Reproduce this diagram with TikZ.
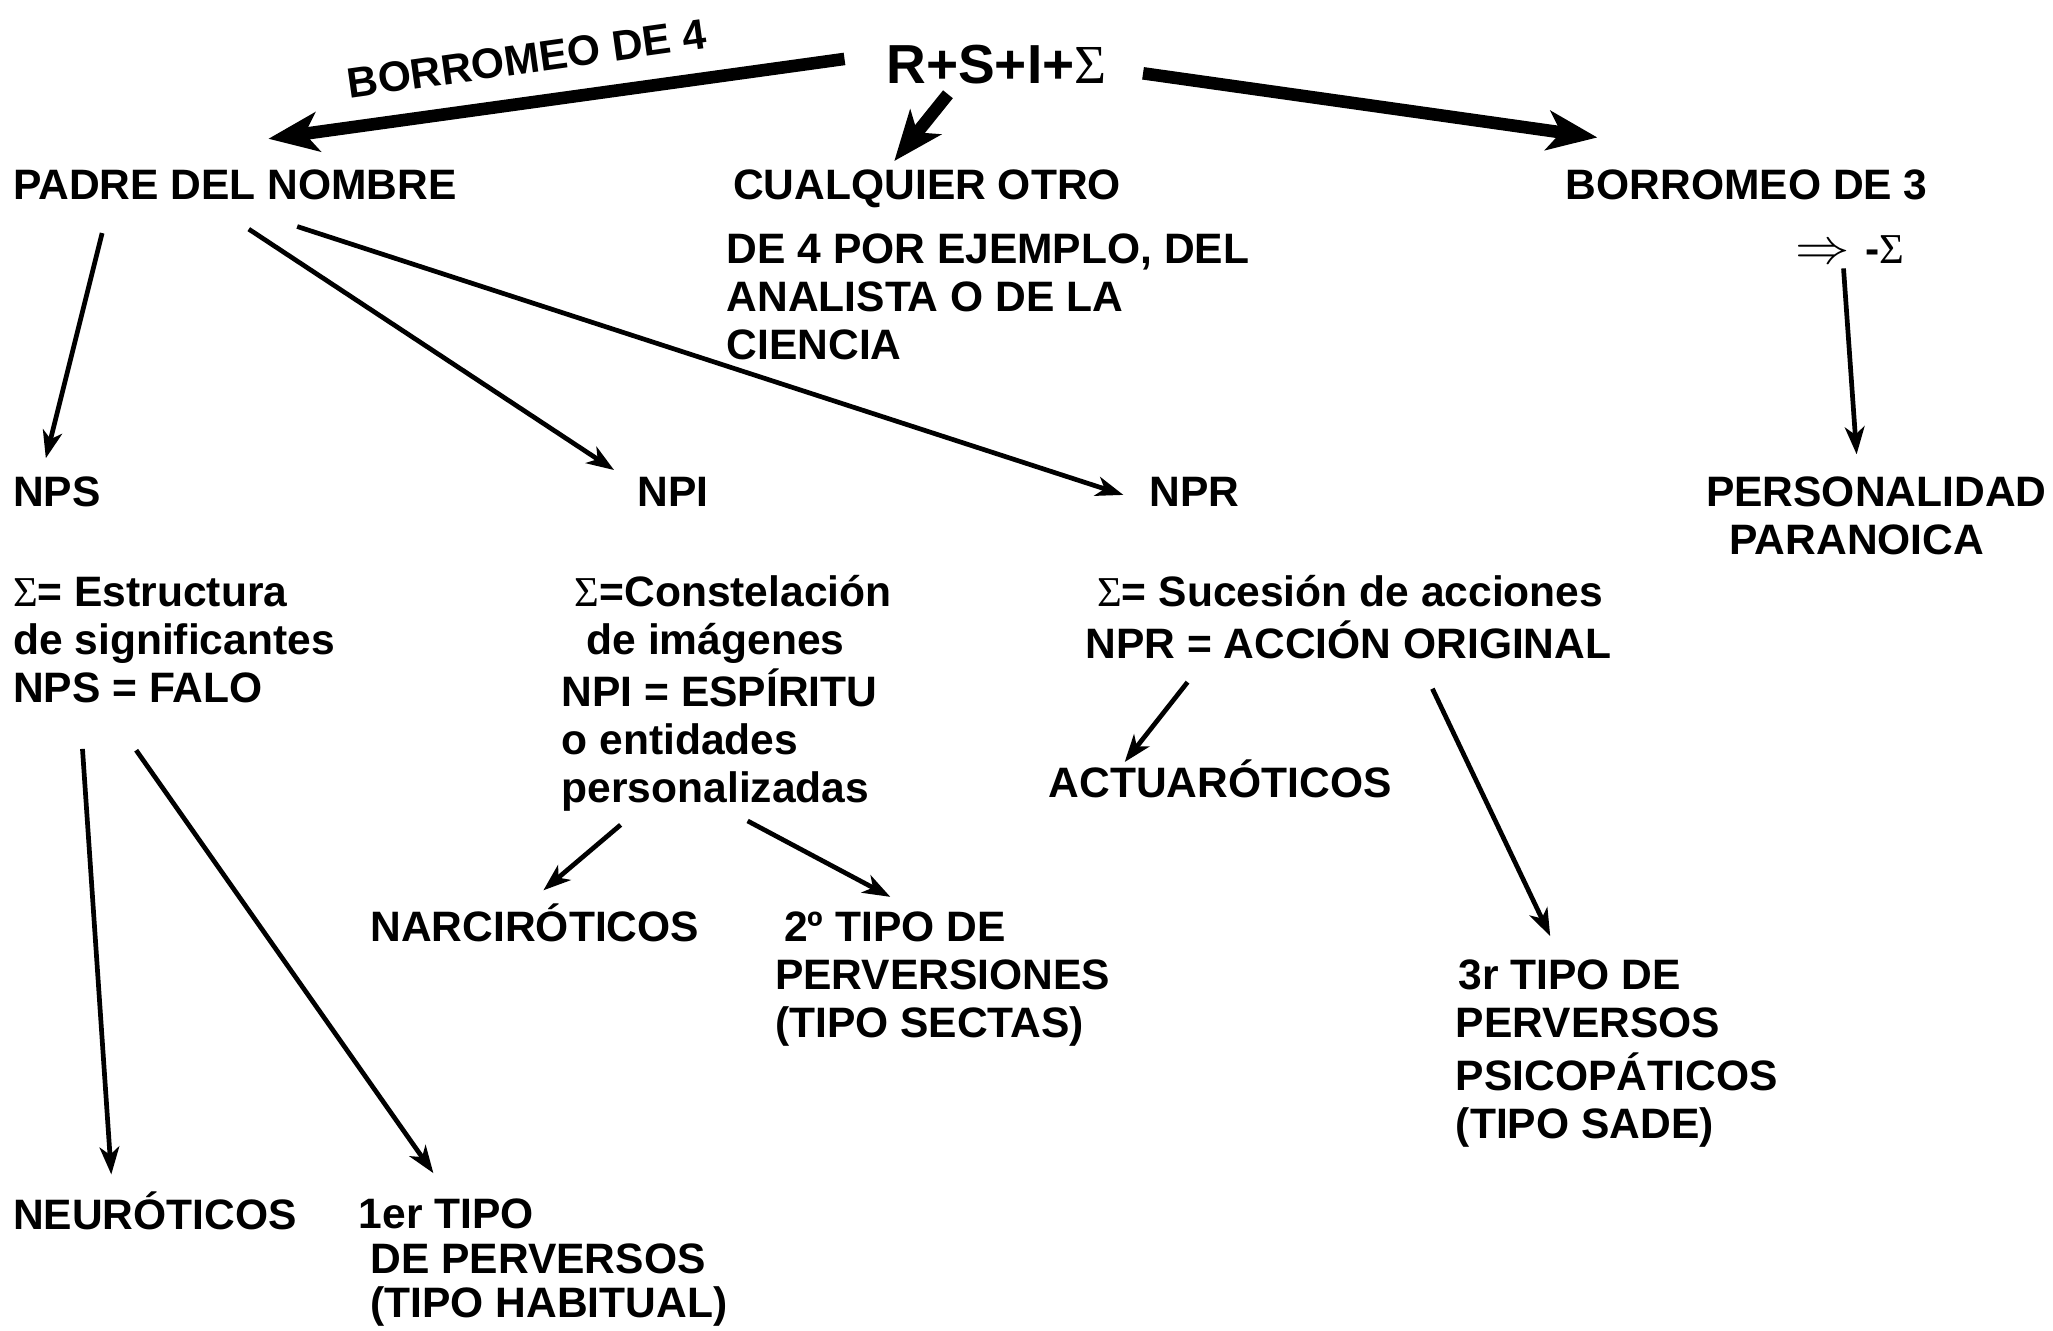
\documentclass[tikz,border=0pt]{standalone}
\usepackage{fontspec}
\setmainfont{Liberation Sans}
\newfontfamily\sigf{Liberation Serif}
\usetikzlibrary{arrows.meta}
\newcommand{\Sg}{{\sigf\mdseries Σ}}
\begin{document}
\begin{tikzpicture}[x=0.5pt,y=-0.5pt,
  every node/.style={inner sep=0pt, outer sep=0pt, anchor=base west,
    font=\fontsize{16.25}{18.35}\selectfont\bfseries},
  big/.style={font=\fontsize{21}{24}\selectfont\bfseries},
  thinarrow/.style={line width=1.8pt, -{Stealth[length=10.5pt,width=7.5pt,inset=3pt]}},
  thickarrow/.style={line width=4.8pt, -{Stealth[length=19pt,width=15pt,inset=5pt]}}]
\fill[white] (0,0) rectangle (1568,1016);
\useasboundingbox (0,0) rectangle (1568,1016);

% top
\node[big] (rsis) at (677,64) {R+S+I+\Sg};
\node[rotate=8] (b4) at (267,75) {BORROMEO DE 4};

\node (padre) at (10,152) {PADRE DEL NOMBRE};
\node (otro) at (560,152) {CUALQUIER OTRO};
\node (b3) at (1196,152) {BORROMEO DE 3};
\node (ej) at (555,201) {\begin{tabular}[t]{@{}l@{}}DE 4 POR EJEMPLO, DEL\\ANALISTA O DE LA\\CIENCIA\end{tabular}};
\node (imp) at (1371,201) {\scalebox{1.2}[1.1]{$\Rightarrow$}\hspace{6pt}-\Sg};

% second level
\node (nps) at (10,387) {NPS};
\node (npi) at (487,387) {NPI};
\node (npr) at (878,387) {NPR};
\node (pers) at (1303,387) {\begin{tabular}[t]{@{}l@{}}PERSONALIDAD\\\hspace{9pt}PARANOICA\end{tabular}};

\node (snps) at (10,463) {\begin{tabular}[t]{@{}l@{}}\Sg= Estructura\\de significantes\\NPS = FALO\end{tabular}};
\node (snpi) at (429,463) {\begin{tabular}[t]{@{}l@{}}\hspace{5pt}\Sg=Constelación\\\hspace{9.5pt}de imágenes\\NPI = ESPÍRITU\\o entidades\\personalizadas\end{tabular}};
\node (snpr) at (829,463) {\begin{tabular}[t]{@{}l@{}}\hspace{4.5pt}\Sg= Sucesión de acciones\\NPR = ACCIÓN ORIGINAL\end{tabular}};

% leaves
\node (act) at (801,609) {ACTUARÓTICOS};
\node (narc) at (283,719) {NARCIRÓTICOS};
\node (t2) at (592,719) {\begin{tabular}[t]{@{}l@{}}\hspace{3.5pt}2º TIPO DE\\PERVERSIONES\\(TIPO SECTAS)\end{tabular}};
\node (t3) at (1112,756) {\begin{tabular}[t]{@{}l@{}}\hspace{1pt}3r TIPO DE\\PERVERSOS\\PSICOPÁTICOS\\(TIPO SADE)\end{tabular}};
\node (neur) at (10,939) {NEURÓTICOS};
\node (t1) at (274,938) {\begin{tabular}[t]{@{}l@{}}1er TIPO\\[-1.2pt]\hspace{4.5pt}DE PERVERSOS\\[-1.2pt]\hspace{4.5pt}(TIPO HABITUAL)\end{tabular}};

% connector end points
\coordinate (T1s) at (645,45);  \coordinate (T1e) at (205,106);
\coordinate (T2s) at (873,56);  \coordinate (T2e) at (1220,105);
\coordinate (T3s) at (724,72);  \coordinate (T3e) at (683,123);
\coordinate (a1s) at (78,178);   \coordinate (a1e) at (35,350);
\coordinate (a2s) at (190,175);  \coordinate (a2e) at (469,359);
\coordinate (a3s) at (227,173);  \coordinate (a3e) at (858,378);
\coordinate (a4s) at (1408,205); \coordinate (a4e) at (1418,347);
\coordinate (a5s) at (63,572);   \coordinate (a5e) at (85,897);
\coordinate (a6s) at (104,573);  \coordinate (a6e) at (331,896);
\coordinate (a7s) at (474,630);  \coordinate (a7e) at (415,680);
\coordinate (a8s) at (571,627);  \coordinate (a8e) at (680,685);
\coordinate (a9s) at (907,521);  \coordinate (a9e) at (859,582);
\coordinate (a10s) at (1094,526); \coordinate (a10e) at (1184,715);

\draw[thickarrow] (T1s) -- (T1e);
\draw[thickarrow] (T2s) -- (T2e);
\draw[thickarrow] (T3s) -- (T3e);
\foreach \i in {1,...,10} \draw[thinarrow] (a\i s) -- (a\i e);
\end{tikzpicture}
\end{document}
